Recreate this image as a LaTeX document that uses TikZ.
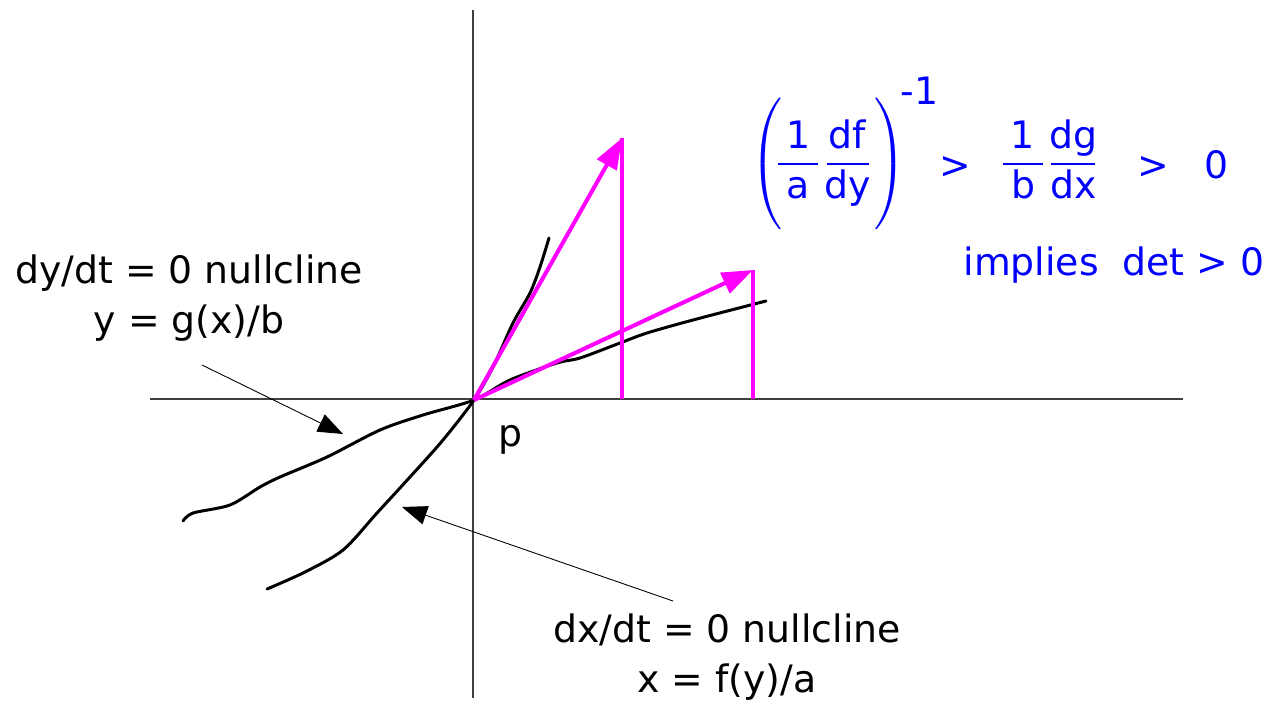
\documentclass[tikz,border=0pt]{standalone}
\usepackage{fontspec}
\usepackage{exscale}
\setmainfont{DejaVu Sans}
\usetikzlibrary{arrows.meta}
\definecolor{condblue}{RGB}{0,0,255}
\definecolor{vecpink}{RGB}{255,0,255}
\newcommand{\wfrac}[3]{\frac{\makebox[#3]{#1}}{\makebox[#3]{#2}}}
\begin{document}
\begin{tikzpicture}[x=0.02cm, y=-0.02cm,
  lbl/.style={font=\fontsize{21.5}{28}\selectfont, align=center, inner sep=0pt},
  axis/.style={draw=black!75, line width=0.6pt},
  nullc/.style={line width=1.7pt, line cap=round, line join=round},
  vec/.style={draw=vecpink, line width=2.3pt},
  pointer/.style={line width=0.5pt, -{Triangle[length=0.5cm, width=0.38cm]}}]
\useasboundingbox (0,0) rectangle (1272,707);

% axes
\draw[axis] (473,10) -- (473,698);
\draw[axis] (150,399) -- (1183,399);

% nullclines through p
\coordinate (o) at (474,400);
\draw[nullc] plot[smooth] coordinates {(267,589) (305,572) (343,550) (377,513) (410,477) (443,440) (474,400) (493,367) (513,323) (530,293) (540,267) (549,238)};
\draw[nullc] plot[smooth] coordinates {(183,521) (193,513) (230,505) (260,487) (280,477) (327,457) (380,430) (423,415) (474,400) (510,380) (557,363) (580,358) (620,343) (647,333) (693,320) (766,301)};

% vectors
\coordinate (v1) at (622,138);
\coordinate (v2) at (753,270);
\coordinate (v1x) at (622,399);
\coordinate (v2x) at (753,399);
\draw[vec, -{Triangle[length=0.62cm, width=0.44cm]}] (o) -- (v1);
\draw[vec, -{Triangle[length=0.62cm, width=0.44cm]}] (o) -- (v2);
\draw[vec] (v1x) -- (v1);
\draw[vec] (v2x) -- (v2);

% labels
\node[lbl] (ylab) at (189,298) {dy/dt = 0 nullcline\\y = g(x)/b};
\node[lbl] (xlab) at (727,657) {dx/dt = 0 nullcline\\x = f(y)/a};
\node[lbl] (p) at (510,440) {p};
\coordinate (ystart) at (202,365);
\coordinate (ytip) at (343,434);
\coordinate (xstart) at (673,601);
\coordinate (xtip) at (402,507);
\draw[pointer] (ystart) -- (ytip);
\draw[pointer] (xstart) -- (xtip);

% condition
\node[lbl, text=condblue, anchor=base west] (cond) at (750,178) {\raisebox{0.1cm}{$\displaystyle\left(\vrule width0pt height1.35cm depth1.0cm\hspace{-0.12cm}\wfrac{1}{a}{0.8cm}\mkern2mu\wfrac{df}{dy}{0.84cm}\hspace{0.08cm}\right)$}\hspace{-0.12cm}\raisebox{1.48cm}{-1}\hspace{0.02cm}>\hspace{0.6cm}\raisebox{0.1cm}{$\displaystyle\wfrac{1}{b}{0.8cm}\mkern2mu\wfrac{dg}{dx}{0.88cm}$}\hspace{0.8cm}>\hspace{0.72cm}0};
\node[lbl, text=condblue] (impl) at (1114,265) {implies\ \ det > 0};
\end{tikzpicture}
\end{document}
